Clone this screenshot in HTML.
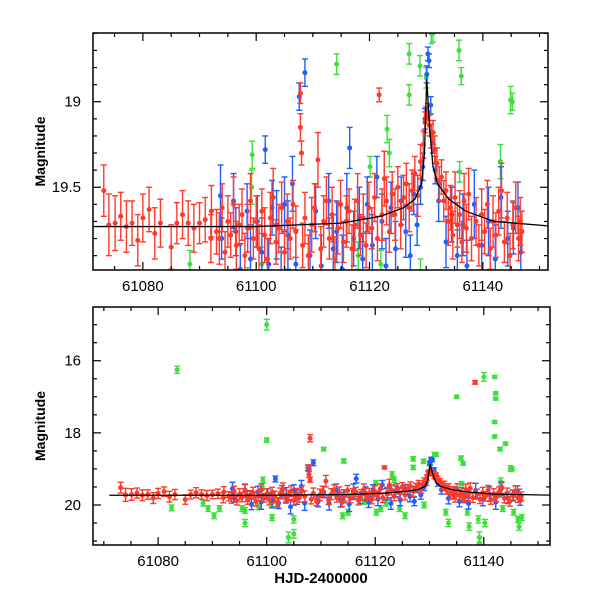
<!DOCTYPE html>
<html><head><meta charset="utf-8"><style>
body{margin:0;background:#fff;}
svg text{font-family:"Liberation Sans",sans-serif;}
</style></head><body>
<svg id="chart" width="600" height="600" viewBox="0 0 600 600" xmlns="http://www.w3.org/2000/svg">
<rect x="0" y="0" width="600" height="600" fill="#fff"/>
</svg>
<script>
// ---- data ----
const redT=[61073.1,61074.0,61075.1,61076.1,61077.1,61078.1,61079.1,61080.0,61081.1,61082.1,61083.1,61085.0,61086.0,61087.0,61088.0,61089.0,61090.0,61091.0,61092.0,61092.1,61093.0,
61093.5,61094.0,61094.5,61095.0,61095.5,61096.0,61096.5,61097.0,61097.5,61098.0,61098.5,61099.0,61099.5,61100.0,61100.5,61101.0,61101.5,61102.0,61102.5,61103.0,61103.5,61104.0,61104.5,61105.0,61105.5,61106.0,61106.5,61107.0,61107.8,61107.8,61108.0,61108.0,61108.2,61108.6,61109.2,61109.8,61110.3,61110.9,61111.4,61111.9,61112.4,61112.9,61113.4,61113.9,61114.4,61114.9,61115.4,61115.9,61116.4,61116.9,61117.4,61117.9,61118.4,61118.9,61119.4,61119.9,61120.4,61120.9,61121.4,61121.7,61122.2,61122.6,61123.0,61123.5,61124.0,61124.5,61125.0,61125.5,61126.0,61126.5,61127.0,61127.5,61128.0,61128.5,61129.0,61129.5,61129.8,61130.0,61130.3,61130.6,61130.9,61131.2,61131.5,61131.9,61132.3,61132.7,61133.1,61133.5,61133.9,61134.3,61134.7,61135.1,61135.5,61135.9,61136.3,61136.7,61137.1,61137.5,61138.0,61138.4,61138.8,61139.3,61139.8,61140.3,61140.8,61141.3,61141.8,61142.3,61142.8,61143.3,61143.8,61144.3,61144.8,61145.3,61145.8,61146.3,61146.6,61146.9];
const redM=[19.52,19.72,19.71,19.67,19.73,19.71,19.81,19.68,19.63,19.77,19.71,19.85,19.71,19.66,19.71,19.74,19.71,19.69,19.80,19.64,19.76,
19.80,19.62,19.88,19.70,19.78,19.60,19.84,19.72,19.66,19.90,19.74,19.58,19.80,19.70,19.86,19.64,19.78,19.92,19.68,19.56,19.82,19.74,19.62,19.88,19.70,19.80,19.60,19.76,18.95,19.15,18.15,19.30,19.84,19.68,19.90,19.72,19.62,19.34,19.86,19.70,19.58,19.80,19.66,19.92,19.74,19.60,19.82,19.70,19.64,19.86,19.72,19.58,19.78,19.68,19.84,19.62,19.74,19.56,19.80,18.96,19.66,19.45,19.58,19.76,19.54,19.66,19.50,19.72,19.56,19.48,19.62,19.52,19.42,19.55,19.35,19.25,19.12,19.08,19.06,19.14,19.20,19.18,19.28,19.36,19.48,19.44,19.58,19.52,19.70,19.62,19.78,19.56,19.72,19.66,19.82,19.58,19.74,19.54,19.80,16.60,19.70,19.84,19.66,19.76,19.60,19.86,19.70,19.78,19.64,19.52,19.82,19.68,19.90,19.72,19.62,19.80,19.70,19.76];
const redE=[.15,.18,.16,.14,.15,.13,.15,.14,.13,.15,.14,.13,.12,.14,.13,.14,.12,.13,.14,.15,.13,
.15,.14,.12,.15,.13,.16,.14,.12,.15,.13,.14,.16,.12,.15,.14,.13,.16,.12,.15,.17,.13,.14,.15,.13,.16,.12,.14,.15,.06,.08,.1,.07,.13,.15,.12,.16,.14,.16,.13,.15,.14,.12,.16,.13,.15,.14,.12,.15,.13,.14,.15,.16,.12,.14,.13,.15,.12,.14,.13,.04,.15,.16,.14,.12,.13,.15,.12,.14,.13,.12,.14,.12,.10,.12,.10,.08,.06,.05,.05,.06,.07,.07,.08,.09,.10,.10,.12,.11,.14,.13,.14,.15,.13,.14,.12,.16,.14,.15,.13,.05,.14,.12,.15,.13,.14,.12,.15,.13,.14,.16,.12,.15,.13,.14,.15,.13,.14,.12];
const blueT=[61093.7,61093.9,61096.0,61096.4,61097.2,61098.4,61099.0,61100.2,61101.0,61101.6,61102.2,61102.8,61103.6,61104.4,61105.0,61105.6,61106.4,61107.0,61107.6,61108.6,61109.5,61110.5,61111.5,61112.8,61113.6,61114.2,61115.2,61116.0,61116.5,61117.2,61118.2,61118.8,61119.6,61120.5,61121.3,61122.2,61122.9,61123.8,61124.6,61125.6,61126.4,61127.2,61127.8,61128.4,61129.0,61129.4,61129.8,61130.1,61130.3,61130.5,61130.8,61131.2,61131.6,61132.2,61133.5,61134.5,61135.5,61136.5,61137.2,61138.5,61139.8,61141.0,61142.2,61143.2,61144.4,61145.4,61146.2,61146.7];
const blueM=[19.55,19.80,19.58,19.76,19.98,19.64,19.92,19.70,19.88,19.28,19.95,19.62,19.72,20.05,19.60,19.78,19.48,19.95,18.97,18.83,19.90,19.64,19.96,19.58,19.86,19.76,19.98,19.62,19.27,19.80,19.68,19.92,19.60,19.84,19.44,19.70,19.96,19.62,19.86,19.58,19.76,19.90,19.54,19.72,19.50,19.38,19.10,18.84,18.72,18.76,19.02,19.24,19.40,19.58,19.82,19.66,19.90,19.72,19.96,19.60,19.84,19.70,19.92,19.56,19.80,19.74,19.62,19.88];
const blueE=[.18,.12,.16,.14,.15,.16,.2,.15,.2,.08,.15,.16,.2,.2,.16,.2,.16,.2,.08,.08,.15,.16,.18,.16,.2,.18,.2,.2,.12,.16,.18,.15,.16,.18,.12,.16,.16,.15,.16,.14,.15,.12,.12,.12,.1,.08,.06,.05,.04,.04,.05,.06,.08,.12,.15,.16,.15,.18,.15,.2,.18,.2,.2,.18,.16,.15,.15,.13];
const greenT=[61082.5,61083.5,61088.3,61089.2,61090.3,61091.3,61095.5,61096.0,61096.0,61098.5,61099.2,61099.3,61100.0,61100.0,61101.0,61101.0,61102.0,61104.0,61105.0,61105.0,61110.5,61114.2,61114.0,61115.0,61118.0,61120.1,61120.2,61121.0,61122.0,61123.1,61123.5,61124.5,61125.5,61127.0,61127.0,61128.9,61129.0,61130.0,61130.9,61131.2,61133.0,61133.5,61135.0,61135.8,61136.2,61135.9,61137.0,61137.3,61139.0,61139.2,61139.2,61140.0,61140.2,61142.0,61142.2,61142.2,61142.0,61142.0,61143.0,61143.1,61143.5,61144.0,61144.9,61145.2,61145.5,61146.3,61146.5,61147.0];
const greenM=[20.08,16.25,19.95,20.10,20.30,20.10,20.10,20.50,20.15,20.05,19.50,19.31,15.00,18.20,20.35,19.95,20.00,20.90,20.80,20.40,18.45,18.78,20.30,20.20,19.90,19.38,20.20,20.10,19.95,19.16,19.30,20.10,20.30,18.72,18.96,18.79,20.00,18.86,18.60,18.60,20.20,20.50,17.00,18.70,18.85,19.41,20.20,20.60,20.40,20.90,21.05,16.45,20.50,16.45,16.90,17.05,17.70,18.10,18.45,19.35,20.10,18.30,18.99,19.00,20.20,20.40,20.60,20.35];
const greenE=[.08,.1,.08,.08,.08,.08,.08,.1,.08,.08,.1,.08,.15,.06,.08,.1,.08,.15,.12,.1,.05,.06,.08,.08,.08,.06,.08,.08,.08,.08,.08,.08,.08,.06,.06,.06,.08,.06,.06,.05,.08,.1,.04,.06,.05,.06,.08,.1,.1,.15,.15,.12,.1,.04,.04,.04,.04,.04,.05,.1,.08,.04,.08,.05,.08,.08,.1,.08];
const fitT=[61071,61100,61115,61122,61126,61128,61129.2,61129.7,61130.1,61130.6,61131.2,61132,61134,61137,61142,61153];
const fitM=[19.73,19.73,19.71,19.67,19.62,19.57,19.48,19.30,18.87,19.15,19.38,19.48,19.57,19.64,19.70,19.73];
const topXTicks=[61080,61100,61120,61140];
const topYTicks=[19,19.5];
const botXTicks=[61080,61100,61120,61140];
const botYTicks=[16,18,20];

const NS='http://www.w3.org/2000/svg';
const svg=document.getElementById('chart');
function mk(tag,attrs,parent){const e=document.createElementNS(NS,tag);for(const k in attrs)e.setAttribute(k,attrs[k]);(parent||svg).appendChild(e);return e;}

const panels=[
 {id:'top',x0:93,x1:548,y0:33,y1:270,t0:61071.2,t1:61151.5,m0:18.598,m1:19.984,xt:topXTicks,xminor:5,yt:topYTicks,yminor:0.1,cap:3,r:2.5},
 {id:'bottom',x0:93,x1:550,y0:307,y1:545,t0:61068.0,t1:61152.2,m0:14.51,m1:21.11,xt:botXTicks,xminor:5,yt:botYTicks,yminor:0.5,cap:3,r:2.5}
];
const colors={green:'#3be03b',blue:'#1f5fff',red:'#ff3a2a'};
panels.forEach(p=>{
 const X=t=>p.x0+(t-p.t0)/(p.t1-p.t0)*(p.x1-p.x0);
 const Y=m=>p.y0+(m-p.m0)/(p.m1-p.m0)*(p.y1-p.y0);
 const clip=mk('clipPath',{id:'clip-'+p.id});
 mk('rect',{x:p.x0,y:p.y0,width:p.x1-p.x0,height:p.y1-p.y0},clip);
 const g=mk('g',{'clip-path':'url(#clip-'+p.id+')'});
 
 
 function series(name,T,M,E){
  const sg=mk('g',{stroke:colors[name],fill:colors[name],'stroke-width':1.4},g);
  
  
  for(let i=0;i<T.length;i++){
   const x=X(T[i]),ya=Y(M[i]-E[i]),yb=Y(M[i]+E[i]),y=Y(M[i]);
   mk('line',{x1:x,x2:x,y1:ya,y2:yb},sg);
   mk('line',{x1:x-p.cap,x2:x+p.cap,y1:ya,y2:ya},sg);
   mk('line',{x1:x-p.cap,x2:x+p.cap,y1:yb,y2:yb},sg);
   const c=mk('circle',{cx:x,cy:y,r:p.r,stroke:'none'},sg);
   
   
  }
 }
 series('green',greenT,greenM,greenE);
 series('blue',blueT,blueM,blueE);
 series('red',redT,redM,redE);
 const fl=mk('polyline',{points:fitT.map((t,i)=>X(t)+','+Y(fitM[i])).join(' '),fill:'none',stroke:'#000','stroke-width':1.3},g);
 
 
 const fr=mk('rect',{x:p.x0,y:p.y0,width:p.x1-p.x0,height:p.y1-p.y0,fill:'none',stroke:'#000','stroke-width':1.5});
 
 
 const ax=mk('g',{stroke:'#000','stroke-width':1.2});
 
 
 for(let t=Math.ceil(p.t0/p.xminor)*p.xminor;t<=p.t1;t+=p.xminor){
  const major=t%20===0, L=major?8:4, x=X(t);
  mk('line',{x1:x,x2:x,y1:p.y1,y2:p.y1-L},ax);
  mk('line',{x1:x,x2:x,y1:p.y0,y2:p.y0+L},ax);
 }
 const nmin=Math.round(1/p.yminor);
 for(let k=Math.ceil(p.m0*nmin);k<=p.m1*nmin;k++){
  const m=k/nmin, y=Y(m);
  const major=(p.id==='top'&&Math.abs(m*2-Math.round(m*2))<1e-6) || (p.id==='bottom'&&Math.abs(m/2-Math.round(m/2))<1e-6);
  const L=major?8:4;
  mk('line',{x1:p.x0,x2:p.x0+L,y1:y,y2:y},ax);
  mk('line',{x1:p.x1,x2:p.x1-L,y1:y,y2:y},ax);
 }
 p.xt.forEach(t=>{const tx=mk('text',{x:X(t),y:p.y1+21,'text-anchor':'middle','font-size':15,fill:'#000'});tx.textContent=t;
  });
 p.yt.forEach(m=>{const tx=mk('text',{x:p.x0-12,y:Y(m)+5,'text-anchor':'end','font-size':15,fill:'#000'});tx.textContent=m;
  });
 const cy=(p.y0+p.y1)/2;
 const yl=mk('text',{x:0,y:0,transform:'translate(45,'+cy+') rotate(-90)','text-anchor':'middle','font-size':14,'font-weight':'bold',fill:'#000'});
 yl.textContent='Magnitude';
 
 
});
const xl=mk('text',{x:321,y:583,'text-anchor':'middle','font-size':15,'font-weight':'bold',fill:'#000'});
xl.textContent='HJD-2400000';


</script>
</body></html>
